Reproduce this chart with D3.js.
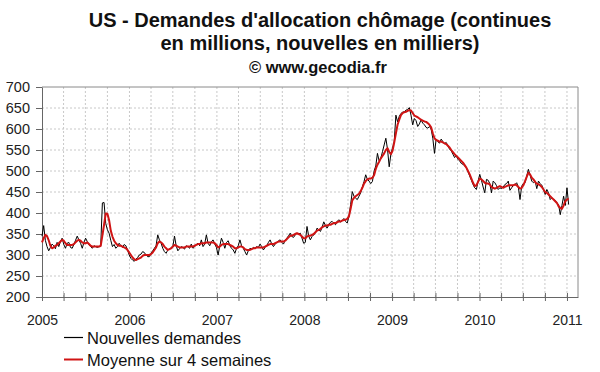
<!DOCTYPE html>
<html lang="fr">
<head>
<meta charset="UTF-8">
<title>US - Demandes d'allocation chômage</title>
<style>
  body { margin: 0; background: #fff; }
  text { font-family: Arial, "Liberation Sans", sans-serif; }
</style>
</head>
<body>
<div id="chart"></div>
<script src="https://cdnjs.cloudflare.com/ajax/libs/d3/7.8.5/d3.min.js"></script>
<script>
// weekly series, first week ending 2005-01-01
var startDate = new Date(2005, 0, 1);

var nouvelles = [345,370,335,320,310,318,326,322,315,330,
320,332,340,325,316,328,330,318,316,325,
335,345,336,328,316,330,340,332,324,320,
316,322,320,318,320,322,424,425,375,360,
352,335,320,325,316,320,328,322,318,325,
322,312,300,292,288,285,290,294,300,302,
308,306,300,296,296,304,310,316,322,348,
336,328,316,308,304,312,314,318,320,345,
322,310,315,320,318,314,322,320,316,326,
316,320,325,328,322,336,320,326,348,328,
322,332,336,326,318,300,322,340,330,316,
330,334,322,316,312,304,316,322,336,322,
316,308,300,310,316,314,318,316,320,318,
326,320,312,318,322,330,336,326,320,326,
330,334,336,330,326,336,340,346,352,344,
342,348,352,350,352,340,328,330,368,345,
336,344,348,352,364,360,356,366,379,370,
364,372,378,380,376,372,380,384,378,382,
387,380,376,392,420,451,440,435,432,440,
448,462,475,491,480,476,470,475,500,512,
542,524,530,546,562,578,552,510,540,555,
570,633,617,630,637,640,641,645,646,651,
633,610,625,620,606,612,622,614,610,604,
602,606,600,578,542,576,570,566,576,570,
565,568,560,552,548,540,532,536,528,524,
518,516,512,508,498,488,478,468,460,456,
476,492,478,462,448,480,478,470,448,476,
472,465,456,460,458,462,468,470,476,454,
460,466,468,472,462,432,464,470,472,488,
504,490,476,472,476,458,476,470,466,456,
444,456,448,432,436,432,430,424,420,396,
418,440,418,460,420];

var moyenne = [330,340,348,345,335,322,316,318,322,324,
328,332,336,334,328,324,324,324,324,326,
330,334,336,334,330,328,328,330,326,322,
320,320,320,320,320,322,346,372,399,398,
383,358,344,334,328,324,322,322,320,318,
316,312,306,300,294,290,288,290,292,294,
298,300,300,300,300,302,306,312,318,328,
332,330,326,320,316,312,314,316,320,324,
322,320,318,318,318,318,320,320,320,320,
320,322,324,326,326,328,328,328,330,330,
330,330,330,328,324,318,320,324,326,326,
326,326,324,322,320,316,316,318,320,320,
318,314,312,312,312,314,316,316,318,318,
318,318,318,320,322,324,326,326,326,328,
330,332,332,332,332,334,338,342,346,346,
348,350,352,350,348,344,340,340,344,346,
346,348,350,354,358,360,362,366,368,370,
370,372,372,374,376,376,378,380,380,382,
383,384,386,392,410,430,436,440,443,446,
452,460,470,476,480,482,482,484,490,505,
515,522,530,536,542,550,554,546,540,548,
568,590,610,622,633,638,640,641,643,645,
644,638,632,630,628,625,622,620,618,617,
614,610,604,590,578,574,572,570,570,568,
566,564,560,556,550,545,540,536,532,528,
524,520,514,508,500,492,482,472,464,466,
474,482,480,476,472,470,470,468,462,460,
458,460,462,464,462,460,462,464,466,466,
466,466,468,466,462,458,460,466,476,486,
496,492,484,480,474,470,468,466,462,456,
450,448,444,440,436,432,428,424,416,412,
410,418,428,432,434];

var yTicks = [200,250,300,350,400,450,500,550,600,650,700];
var titleLines = ["US - Demandes d'allocation chômage (continues",
                  "en millions, nouvelles en milliers)"];
var source = "© www.gecodia.fr";
var legendNames = ["Nouvelles demandes", "Moyenne sur 4 semaines"];
var legendColors = ["#000000", "#d01414"];

var W = 600, H = 372;
var plot = {left: 42, right: 578, top: 87, bottom: 297};

var svg = d3.select("#chart").append("svg")
    .attr("width", W)
    .attr("height", H);

svg.append("rect").attr("width", W).attr("height", H).attr("fill", "#fff");

function weekDate(i) { return new Date(2005, 0, 1 + 7 * i); }

var x = d3.scaleTime()
    .domain([startDate, new Date(2011, 1, 16)])
    .range([plot.left, plot.right]);

var y = d3.scaleLinear()
    .domain([200, 700])
    .range([plot.bottom, plot.top]);

var quarters = d3.timeMonth.every(3).range(startDate, new Date(2011, 1, 16));

// grid
svg.append("g").selectAll("line.hg")
    .data(yTicks.slice(1, -1))
    .enter().append("line")
    .attr("x1", plot.left).attr("x2", plot.right)
    .attr("y1", function(d) { return y(d); })
    .attr("y2", function(d) { return y(d); })
    .attr("stroke", "#c8c8c8")
    .attr("stroke-dasharray", "2,2");

svg.append("g").selectAll("line.vg")
    .data(quarters.slice(1))
    .enter().append("line")
    .attr("x1", function(d) { return x(d); })
    .attr("x2", function(d) { return x(d); })
    .attr("y1", plot.top).attr("y2", plot.bottom)
    .attr("stroke", "#c8c8c8")
    .attr("stroke-dasharray", "2,2");

// frame top/right
svg.append("path")
    .attr("d", "M" + plot.left + "," + plot.top + "H" + plot.right + "V" + plot.bottom)
    .attr("fill", "none")
    .attr("stroke", "#8a8a8a");

// Y axis
var yAxis = svg.append("g")
    .attr("transform", "translate(" + plot.left + ",0)")
    .call(d3.axisLeft(y).tickValues(yTicks).tickSize(6).tickPadding(6).tickSizeOuter(0));
yAxis.select(".domain").attr("stroke", "#666");
yAxis.selectAll(".tick line").attr("stroke", "#666");
yAxis.selectAll(".tick text")
    .attr("font-size", "14.5px")
    .attr("font-family", "Arial, 'Liberation Sans', sans-serif")
    .attr("fill", "#222");

// X axis
var xAxis = svg.append("g")
    .attr("transform", "translate(0," + plot.bottom + ")")
    .call(d3.axisBottom(x).tickValues(quarters).tickSize(4).tickSizeOuter(0)
        .tickFormat(function(d) { return d.getMonth() === 0 ? d.getFullYear() : ""; }));
xAxis.select(".domain").attr("stroke", "#666");
xAxis.selectAll(".tick line").attr("stroke", "#666").attr("y1", -4);
xAxis.selectAll(".tick text")
    .attr("y", 28).attr("dy", null)
    .attr("font-size", "14px")
    .attr("font-family", "Arial, 'Liberation Sans', sans-serif")
    .attr("fill", "#222");

// lines
var line = d3.line()
    .x(function(d, i) { return x(weekDate(i)); })
    .y(function(d) { return y(d); });

svg.append("path")
    .datum(nouvelles)
    .attr("d", line)
    .attr("fill", "none")
    .attr("stroke", legendColors[0])
    .attr("stroke-width", 1);

svg.append("path")
    .datum(moyenne)
    .attr("d", line)
    .attr("fill", "none")
    .attr("stroke", legendColors[1])
    .attr("stroke-width", 2)
    .attr("stroke-linejoin", "round");

// title
svg.selectAll("text.title")
    .data(titleLines)
    .enter().append("text")
    .attr("x", 320)
    .attr("y", function(d, i) { return 27 + i * 23; })
    .attr("text-anchor", "middle")
    .attr("font-size", "20px")
    .attr("font-weight", "bold")
    .attr("fill", "#111")
    .text(function(d) { return d; });

svg.append("text")
    .attr("x", 318)
    .attr("y", 73)
    .attr("text-anchor", "middle")
    .attr("font-size", "16.5px")
    .attr("font-weight", "bold")
    .attr("fill", "#111")
    .text(source);

// legend
var leg = svg.append("g");
legendNames.forEach(function(name, i) {
    var ly = 337.5 + i * 22;
    leg.append("line")
        .attr("x1", 64).attr("x2", 83)
        .attr("y1", ly).attr("y2", ly)
        .attr("stroke", legendColors[i])
        .attr("stroke-width", i === 0 ? 1.2 : 2);
    leg.append("text")
        .attr("x", 87)
        .attr("y", ly + 6.5)
        .attr("font-size", "16.5px")
        .attr("fill", "#111")
        .text(name);
});
</script>
</body>
</html>
